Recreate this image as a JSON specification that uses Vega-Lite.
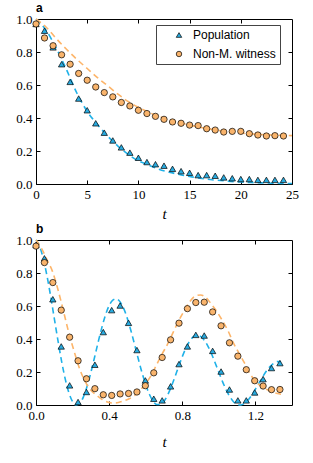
{
  "$schema": "https://vega.github.io/schema/vega-lite/v6.json",
  "padding": {"left": 15, "top": 2, "right": 5, "bottom": 5},
  "background": "white",
  "config": {
    "view": {"stroke": null},
    "axis": {"domainColor": "black", "domainWidth": 1, "tickColor": "black", "tickWidth": 1, "tickSize": -4, "labelFont": "Liberation Serif", "labelFontSize": 13, "labelColor": "black", "labelPadding": 8, "labelFlush": false, "grid": false, "titleFont": "Liberation Serif", "titleFontStyle": "italic", "titleFontWeight": "normal", "titleFontSize": 15, "titleColor": "black"},
    "title": {"font": "Liberation Sans", "fontSize": 12, "fontWeight": "bold", "anchor": "start", "offset": -2, "frame": "group", "color": "black"}
  },
  "datasets": {
    "aPts": [
      {"t": 0, "v": 0.97, "series": "Population"},
      {"t": 0.833, "v": 0.929, "series": "Population"},
      {"t": 1.667, "v": 0.828, "series": "Population"},
      {"t": 2.5, "v": 0.726, "series": "Population"},
      {"t": 3.333, "v": 0.619, "series": "Population"},
      {"t": 4.167, "v": 0.518, "series": "Population"},
      {"t": 5.0, "v": 0.447, "series": "Population"},
      {"t": 5.833, "v": 0.368, "series": "Population"},
      {"t": 6.667, "v": 0.311, "series": "Population"},
      {"t": 7.5, "v": 0.264, "series": "Population"},
      {"t": 8.333, "v": 0.222, "series": "Population"},
      {"t": 9.167, "v": 0.19, "series": "Population"},
      {"t": 10.0, "v": 0.159, "series": "Population"},
      {"t": 10.833, "v": 0.133, "series": "Population"},
      {"t": 11.667, "v": 0.12, "series": "Population"},
      {"t": 12.5, "v": 0.111, "series": "Population"},
      {"t": 13.333, "v": 0.092, "series": "Population"},
      {"t": 14.167, "v": 0.078, "series": "Population"},
      {"t": 15.0, "v": 0.068, "series": "Population"},
      {"t": 15.833, "v": 0.054, "series": "Population"},
      {"t": 16.667, "v": 0.054, "series": "Population"},
      {"t": 17.5, "v": 0.05, "series": "Population"},
      {"t": 18.333, "v": 0.04, "series": "Population"},
      {"t": 19.167, "v": 0.035, "series": "Population"},
      {"t": 20.0, "v": 0.03, "series": "Population"},
      {"t": 20.833, "v": 0.03, "series": "Population"},
      {"t": 21.667, "v": 0.025, "series": "Population"},
      {"t": 22.5, "v": 0.025, "series": "Population"},
      {"t": 23.333, "v": 0.025, "series": "Population"},
      {"t": 24.167, "v": 0.025, "series": "Population"},
      {"t": 0, "v": 0.97, "series": "Non-M. witness"},
      {"t": 0.833, "v": 0.885, "series": "Non-M. witness"},
      {"t": 1.667, "v": 0.838, "series": "Non-M. witness"},
      {"t": 2.5, "v": 0.783, "series": "Non-M. witness"},
      {"t": 3.333, "v": 0.726, "series": "Non-M. witness"},
      {"t": 4.167, "v": 0.67, "series": "Non-M. witness"},
      {"t": 5.0, "v": 0.629, "series": "Non-M. witness"},
      {"t": 5.833, "v": 0.588, "series": "Non-M. witness"},
      {"t": 6.667, "v": 0.554, "series": "Non-M. witness"},
      {"t": 7.5, "v": 0.528, "series": "Non-M. witness"},
      {"t": 8.333, "v": 0.494, "series": "Non-M. witness"},
      {"t": 9.167, "v": 0.473, "series": "Non-M. witness"},
      {"t": 10.0, "v": 0.447, "series": "Non-M. witness"},
      {"t": 10.833, "v": 0.427, "series": "Non-M. witness"},
      {"t": 11.667, "v": 0.41, "series": "Non-M. witness"},
      {"t": 12.5, "v": 0.392, "series": "Non-M. witness"},
      {"t": 13.333, "v": 0.376, "series": "Non-M. witness"},
      {"t": 14.167, "v": 0.368, "series": "Non-M. witness"},
      {"t": 15.0, "v": 0.357, "series": "Non-M. witness"},
      {"t": 15.833, "v": 0.354, "series": "Non-M. witness"},
      {"t": 16.667, "v": 0.335, "series": "Non-M. witness"},
      {"t": 17.5, "v": 0.327, "series": "Non-M. witness"},
      {"t": 18.333, "v": 0.315, "series": "Non-M. witness"},
      {"t": 19.167, "v": 0.319, "series": "Non-M. witness"},
      {"t": 20.0, "v": 0.319, "series": "Non-M. witness"},
      {"t": 20.833, "v": 0.305, "series": "Non-M. witness"},
      {"t": 21.667, "v": 0.297, "series": "Non-M. witness"},
      {"t": 22.5, "v": 0.291, "series": "Non-M. witness"},
      {"t": 23.333, "v": 0.293, "series": "Non-M. witness"},
      {"t": 24.167, "v": 0.291, "series": "Non-M. witness"}
    ],
    "aLines": [
      {"t": 0, "v": 1.0, "series": "Population theory"},
      {"t": 1, "v": 0.93, "series": "Population theory"},
      {"t": 2, "v": 0.82, "series": "Population theory"},
      {"t": 3, "v": 0.69, "series": "Population theory"},
      {"t": 4, "v": 0.55, "series": "Population theory"},
      {"t": 5, "v": 0.44, "series": "Population theory"},
      {"t": 6, "v": 0.36, "series": "Population theory"},
      {"t": 7, "v": 0.29, "series": "Population theory"},
      {"t": 8, "v": 0.23, "series": "Population theory"},
      {"t": 9, "v": 0.18, "series": "Population theory"},
      {"t": 10, "v": 0.14, "series": "Population theory"},
      {"t": 11, "v": 0.115, "series": "Population theory"},
      {"t": 12, "v": 0.09, "series": "Population theory"},
      {"t": 13, "v": 0.072, "series": "Population theory"},
      {"t": 14, "v": 0.058, "series": "Population theory"},
      {"t": 15, "v": 0.045, "series": "Population theory"},
      {"t": 16, "v": 0.035, "series": "Population theory"},
      {"t": 17, "v": 0.027, "series": "Population theory"},
      {"t": 18, "v": 0.021, "series": "Population theory"},
      {"t": 19, "v": 0.016, "series": "Population theory"},
      {"t": 20, "v": 0.012, "series": "Population theory"},
      {"t": 21, "v": 0.009, "series": "Population theory"},
      {"t": 22, "v": 0.007, "series": "Population theory"},
      {"t": 23, "v": 0.005, "series": "Population theory"},
      {"t": 24, "v": 0.004, "series": "Population theory"},
      {"t": 25, "v": 0.003, "series": "Population theory"},
      {"t": 0, "v": 1.0, "series": "Witness theory"},
      {"t": 1, "v": 0.95, "series": "Witness theory"},
      {"t": 2, "v": 0.88, "series": "Witness theory"},
      {"t": 3, "v": 0.815, "series": "Witness theory"},
      {"t": 4, "v": 0.755, "series": "Witness theory"},
      {"t": 5, "v": 0.70, "series": "Witness theory"},
      {"t": 6, "v": 0.645, "series": "Witness theory"},
      {"t": 7, "v": 0.595, "series": "Witness theory"},
      {"t": 8, "v": 0.545, "series": "Witness theory"},
      {"t": 9, "v": 0.50, "series": "Witness theory"},
      {"t": 10, "v": 0.465, "series": "Witness theory"},
      {"t": 11, "v": 0.435, "series": "Witness theory"},
      {"t": 12, "v": 0.41, "series": "Witness theory"},
      {"t": 13, "v": 0.39, "series": "Witness theory"},
      {"t": 14, "v": 0.372, "series": "Witness theory"},
      {"t": 15, "v": 0.357, "series": "Witness theory"},
      {"t": 16, "v": 0.344, "series": "Witness theory"},
      {"t": 17, "v": 0.333, "series": "Witness theory"},
      {"t": 18, "v": 0.323, "series": "Witness theory"},
      {"t": 19, "v": 0.315, "series": "Witness theory"},
      {"t": 20, "v": 0.309, "series": "Witness theory"},
      {"t": 21, "v": 0.304, "series": "Witness theory"},
      {"t": 22, "v": 0.30, "series": "Witness theory"},
      {"t": 23, "v": 0.297, "series": "Witness theory"},
      {"t": 24, "v": 0.295, "series": "Witness theory"},
      {"t": 25, "v": 0.293, "series": "Witness theory"}
    ],
    "bPts": [
      {"t": 0, "v": 0.97, "series": "Population"},
      {"t": 0.046, "v": 0.889, "series": "Population"},
      {"t": 0.092, "v": 0.641, "series": "Population"},
      {"t": 0.138, "v": 0.355, "series": "Population"},
      {"t": 0.184, "v": 0.119, "series": "Population"},
      {"t": 0.23, "v": 0.018, "series": "Population"},
      {"t": 0.276, "v": 0.079, "series": "Population"},
      {"t": 0.322, "v": 0.244, "series": "Population"},
      {"t": 0.368, "v": 0.442, "series": "Population"},
      {"t": 0.414, "v": 0.575, "series": "Population"},
      {"t": 0.46, "v": 0.603, "series": "Population"},
      {"t": 0.506, "v": 0.498, "series": "Population"},
      {"t": 0.552, "v": 0.333, "series": "Population"},
      {"t": 0.598, "v": 0.149, "series": "Population"},
      {"t": 0.644, "v": 0.038, "series": "Population"},
      {"t": 0.69, "v": 0.028, "series": "Population"},
      {"t": 0.736, "v": 0.113, "series": "Population"},
      {"t": 0.782, "v": 0.248, "series": "Population"},
      {"t": 0.828, "v": 0.355, "series": "Population"},
      {"t": 0.874, "v": 0.425, "series": "Population"},
      {"t": 0.92, "v": 0.421, "series": "Population"},
      {"t": 0.966, "v": 0.328, "series": "Population"},
      {"t": 1.012, "v": 0.203, "series": "Population"},
      {"t": 1.058, "v": 0.094, "series": "Population"},
      {"t": 1.104, "v": 0.028, "series": "Population"},
      {"t": 1.15, "v": 0.028, "series": "Population"},
      {"t": 1.196, "v": 0.076, "series": "Population"},
      {"t": 1.242, "v": 0.157, "series": "Population"},
      {"t": 1.288, "v": 0.224, "series": "Population"},
      {"t": 1.334, "v": 0.254, "series": "Population"},
      {"t": 0, "v": 0.963, "series": "Non-M. witness"},
      {"t": 0.046, "v": 0.863, "series": "Non-M. witness"},
      {"t": 0.092, "v": 0.742, "series": "Non-M. witness"},
      {"t": 0.138, "v": 0.575, "series": "Non-M. witness"},
      {"t": 0.184, "v": 0.411, "series": "Non-M. witness"},
      {"t": 0.23, "v": 0.268, "series": "Non-M. witness"},
      {"t": 0.276, "v": 0.159, "series": "Non-M. witness"},
      {"t": 0.322, "v": 0.099, "series": "Non-M. witness"},
      {"t": 0.368, "v": 0.062, "series": "Non-M. witness"},
      {"t": 0.414, "v": 0.058, "series": "Non-M. witness"},
      {"t": 0.46, "v": 0.067, "series": "Non-M. witness"},
      {"t": 0.506, "v": 0.07, "series": "Non-M. witness"},
      {"t": 0.552, "v": 0.079, "series": "Non-M. witness"},
      {"t": 0.598, "v": 0.117, "series": "Non-M. witness"},
      {"t": 0.644, "v": 0.195, "series": "Non-M. witness"},
      {"t": 0.69, "v": 0.288, "series": "Non-M. witness"},
      {"t": 0.736, "v": 0.395, "series": "Non-M. witness"},
      {"t": 0.782, "v": 0.496, "series": "Non-M. witness"},
      {"t": 0.828, "v": 0.584, "series": "Non-M. witness"},
      {"t": 0.874, "v": 0.621, "series": "Non-M. witness"},
      {"t": 0.92, "v": 0.623, "series": "Non-M. witness"},
      {"t": 0.966, "v": 0.564, "series": "Non-M. witness"},
      {"t": 1.012, "v": 0.48, "series": "Non-M. witness"},
      {"t": 1.058, "v": 0.377, "series": "Non-M. witness"},
      {"t": 1.104, "v": 0.296, "series": "Non-M. witness"},
      {"t": 1.15, "v": 0.214, "series": "Non-M. witness"},
      {"t": 1.196, "v": 0.147, "series": "Non-M. witness"},
      {"t": 1.242, "v": 0.115, "series": "Non-M. witness"},
      {"t": 1.288, "v": 0.093, "series": "Non-M. witness"},
      {"t": 1.334, "v": 0.094, "series": "Non-M. witness"}
    ],
    "bLines": [
      {"t": 0, "v": 1.0, "series": "Population theory"},
      {"t": 0.02, "v": 0.961, "series": "Population theory"},
      {"t": 0.04, "v": 0.887, "series": "Population theory"},
      {"t": 0.06, "v": 0.783, "series": "Population theory"},
      {"t": 0.08, "v": 0.66, "series": "Population theory"},
      {"t": 0.10, "v": 0.525, "series": "Population theory"},
      {"t": 0.12, "v": 0.391, "series": "Population theory"},
      {"t": 0.14, "v": 0.265, "series": "Population theory"},
      {"t": 0.16, "v": 0.157, "series": "Population theory"},
      {"t": 0.18, "v": 0.074, "series": "Population theory"},
      {"t": 0.20, "v": 0.021, "series": "Population theory"},
      {"t": 0.22, "v": 0.0, "series": "Population theory"},
      {"t": 0.24, "v": 0.011, "series": "Population theory"},
      {"t": 0.26, "v": 0.051, "series": "Population theory"},
      {"t": 0.28, "v": 0.115, "series": "Population theory"},
      {"t": 0.30, "v": 0.197, "series": "Population theory"},
      {"t": 0.32, "v": 0.288, "series": "Population theory"},
      {"t": 0.34, "v": 0.381, "series": "Population theory"},
      {"t": 0.36, "v": 0.469, "series": "Population theory"},
      {"t": 0.38, "v": 0.545, "series": "Population theory"},
      {"t": 0.40, "v": 0.603, "series": "Population theory"},
      {"t": 0.42, "v": 0.635, "series": "Population theory"},
      {"t": 0.44, "v": 0.643, "series": "Population theory"},
      {"t": 0.46, "v": 0.625, "series": "Population theory"},
      {"t": 0.48, "v": 0.584, "series": "Population theory"},
      {"t": 0.50, "v": 0.523, "series": "Population theory"},
      {"t": 0.52, "v": 0.447, "series": "Population theory"},
      {"t": 0.54, "v": 0.363, "series": "Population theory"},
      {"t": 0.56, "v": 0.277, "series": "Population theory"},
      {"t": 0.58, "v": 0.195, "series": "Population theory"},
      {"t": 0.60, "v": 0.123, "series": "Population theory"},
      {"t": 0.62, "v": 0.065, "series": "Population theory"},
      {"t": 0.64, "v": 0.024, "series": "Population theory"},
      {"t": 0.66, "v": 0.003, "series": "Population theory"},
      {"t": 0.68, "v": 0.003, "series": "Population theory"},
      {"t": 0.70, "v": 0.023, "series": "Population theory"},
      {"t": 0.72, "v": 0.061, "series": "Population theory"},
      {"t": 0.74, "v": 0.112, "series": "Population theory"},
      {"t": 0.76, "v": 0.171, "series": "Population theory"},
      {"t": 0.78, "v": 0.233, "series": "Population theory"},
      {"t": 0.80, "v": 0.293, "series": "Population theory"},
      {"t": 0.82, "v": 0.345, "series": "Population theory"},
      {"t": 0.84, "v": 0.386, "series": "Population theory"},
      {"t": 0.86, "v": 0.413, "series": "Population theory"},
      {"t": 0.88, "v": 0.423, "series": "Population theory"},
      {"t": 0.90, "v": 0.416, "series": "Population theory"},
      {"t": 0.92, "v": 0.393, "series": "Population theory"},
      {"t": 0.94, "v": 0.357, "series": "Population theory"},
      {"t": 0.96, "v": 0.31, "series": "Population theory"},
      {"t": 0.98, "v": 0.255, "series": "Population theory"},
      {"t": 1.00, "v": 0.198, "series": "Population theory"},
      {"t": 1.02, "v": 0.142, "series": "Population theory"},
      {"t": 1.04, "v": 0.092, "series": "Population theory"},
      {"t": 1.06, "v": 0.051, "series": "Population theory"},
      {"t": 1.08, "v": 0.02, "series": "Population theory"},
      {"t": 1.10, "v": 0.004, "series": "Population theory"},
      {"t": 1.12, "v": 0.0, "series": "Population theory"},
      {"t": 1.14, "v": 0.01, "series": "Population theory"},
      {"t": 1.16, "v": 0.03, "series": "Population theory"},
      {"t": 1.18, "v": 0.06, "series": "Population theory"},
      {"t": 1.20, "v": 0.096, "series": "Population theory"},
      {"t": 1.22, "v": 0.134, "series": "Population theory"},
      {"t": 1.24, "v": 0.171, "series": "Population theory"},
      {"t": 1.26, "v": 0.206, "series": "Population theory"},
      {"t": 1.28, "v": 0.233, "series": "Population theory"},
      {"t": 1.30, "v": 0.253, "series": "Population theory"},
      {"t": 1.32, "v": 0.263, "series": "Population theory"},
      {"t": 1.34, "v": 0.262, "series": "Population theory"},
      {"t": 0, "v": 1.0, "series": "Witness theory"},
      {"t": 0.03, "v": 0.95, "series": "Witness theory"},
      {"t": 0.06, "v": 0.88, "series": "Witness theory"},
      {"t": 0.09, "v": 0.81, "series": "Witness theory"},
      {"t": 0.12, "v": 0.70, "series": "Witness theory"},
      {"t": 0.15, "v": 0.57, "series": "Witness theory"},
      {"t": 0.18, "v": 0.435, "series": "Witness theory"},
      {"t": 0.21, "v": 0.32, "series": "Witness theory"},
      {"t": 0.24, "v": 0.215, "series": "Witness theory"},
      {"t": 0.27, "v": 0.14, "series": "Witness theory"},
      {"t": 0.30, "v": 0.09, "series": "Witness theory"},
      {"t": 0.33, "v": 0.06, "series": "Witness theory"},
      {"t": 0.36, "v": 0.035, "series": "Witness theory"},
      {"t": 0.39, "v": 0.018, "series": "Witness theory"},
      {"t": 0.42, "v": 0.012, "series": "Witness theory"},
      {"t": 0.45, "v": 0.015, "series": "Witness theory"},
      {"t": 0.48, "v": 0.025, "series": "Witness theory"},
      {"t": 0.51, "v": 0.038, "series": "Witness theory"},
      {"t": 0.54, "v": 0.058, "series": "Witness theory"},
      {"t": 0.57, "v": 0.09, "series": "Witness theory"},
      {"t": 0.60, "v": 0.13, "series": "Witness theory"},
      {"t": 0.63, "v": 0.18, "series": "Witness theory"},
      {"t": 0.66, "v": 0.245, "series": "Witness theory"},
      {"t": 0.69, "v": 0.31, "series": "Witness theory"},
      {"t": 0.72, "v": 0.37, "series": "Witness theory"},
      {"t": 0.75, "v": 0.44, "series": "Witness theory"},
      {"t": 0.78, "v": 0.51, "series": "Witness theory"},
      {"t": 0.81, "v": 0.57, "series": "Witness theory"},
      {"t": 0.84, "v": 0.625, "series": "Witness theory"},
      {"t": 0.87, "v": 0.66, "series": "Witness theory"},
      {"t": 0.90, "v": 0.667, "series": "Witness theory"},
      {"t": 0.93, "v": 0.65, "series": "Witness theory"},
      {"t": 0.96, "v": 0.61, "series": "Witness theory"},
      {"t": 0.99, "v": 0.565, "series": "Witness theory"},
      {"t": 1.02, "v": 0.51, "series": "Witness theory"},
      {"t": 1.05, "v": 0.45, "series": "Witness theory"},
      {"t": 1.08, "v": 0.375, "series": "Witness theory"},
      {"t": 1.11, "v": 0.315, "series": "Witness theory"},
      {"t": 1.14, "v": 0.255, "series": "Witness theory"},
      {"t": 1.17, "v": 0.19, "series": "Witness theory"},
      {"t": 1.20, "v": 0.145, "series": "Witness theory"},
      {"t": 1.23, "v": 0.115, "series": "Witness theory"},
      {"t": 1.26, "v": 0.095, "series": "Witness theory"},
      {"t": 1.29, "v": 0.08, "series": "Witness theory"},
      {"t": 1.32, "v": 0.07, "series": "Witness theory"},
      {"t": 1.34, "v": 0.065, "series": "Witness theory"}
    ]
  },
  "spacing": 56,
  "bounds": "flush",
  "resolve": {"scale": {"x": "independent", "y": "independent", "color": "independent", "shape": "independent", "stroke": "independent"}},
  "vconcat": [
    {
      "width": 256,
      "height": 165,
      "title": {"text": "a"},
      "resolve": {"axis": {"x": "independent", "y": "independent"}},
      "layer": [
        {
          "data": {"name": "aLines"},
          "mark": {"type": "line", "strokeDash": [6, 4], "strokeWidth": 1.6, "interpolate": "monotone"},
          "encoding": {
            "x": {"field": "t", "type": "quantitative", "scale": {"domain": [0, 25], "nice": false}, "axis": {"orient": "bottom", "values": [0, 5, 10, 15, 20, 25], "format": "d", "title": "t", "titlePadding": 5}},
            "y": {"field": "v", "type": "quantitative", "scale": {"domain": [0, 1], "nice": false}, "axis": {"orient": "left", "values": [0, 0.2, 0.4, 0.6, 0.8, 1.0], "format": ".1f", "title": null}},
            "stroke": {"field": "series", "type": "nominal", "scale": {"domain": ["Population theory", "Witness theory"], "range": ["#1fb1e8", "#fdb56a"]}, "legend": null}
          }
        },
        {
          "data": {"name": "aPts"},
          "mark": {"type": "point", "filled": true, "stroke": "black", "strokeWidth": 0.7, "opacity": 1, "size": 40},
          "encoding": {
            "x": {"field": "t", "type": "quantitative", "axis": {"orient": "top", "values": [5, 10, 15, 20], "labels": false, "title": null}},
            "y": {"field": "v", "type": "quantitative", "axis": {"orient": "right", "values": [0.2, 0.4, 0.6, 0.8], "labels": false, "title": null}},
            "color": {"field": "series", "type": "nominal", "scale": {"domain": ["Population", "Non-M. witness"], "range": ["#29abe0", "#f9b46c"]},
              "legend": {"title": null, "orient": "none", "legendX": 120, "legendY": 6, "padding": 4, "strokeColor": "#444444", "fillColor": "white", "symbolOffset": 13, "labelOffset": 8, "labelFont": "Liberation Sans", "labelFontSize": 12, "labelColor": "black", "rowPadding": 7, "symbolSize": 30, "symbolStrokeColor": "black", "symbolStrokeWidth": 0.7, "symbolOpacity": 1}},
            "shape": {"field": "series", "type": "nominal", "scale": {"domain": ["Population", "Non-M. witness"], "range": ["triangle-up", "circle"]}}
          }
        }
      ]
    },
    {
      "width": 256,
      "height": 165,
      "title": {"text": "b"},
      "resolve": {"axis": {"x": "independent", "y": "independent"}},
      "layer": [
        {
          "data": {"name": "bLines"},
          "mark": {"type": "line", "strokeDash": [6, 4], "strokeWidth": 1.6, "interpolate": "monotone"},
          "encoding": {
            "x": {"field": "t", "type": "quantitative", "scale": {"domain": [0, 1.4], "nice": false}, "axis": {"orient": "bottom", "values": [0, 0.4, 0.8, 1.2], "format": ".1f", "title": "t", "titlePadding": 12}},
            "y": {"field": "v", "type": "quantitative", "scale": {"domain": [0, 1], "nice": false}, "axis": {"orient": "left", "values": [0, 0.2, 0.4, 0.6, 0.8, 1.0], "format": ".1f", "title": null}},
            "stroke": {"field": "series", "type": "nominal", "scale": {"domain": ["Population theory", "Witness theory"], "range": ["#1fb1e8", "#fdb56a"]}, "legend": null}
          }
        },
        {
          "data": {"name": "bPts"},
          "mark": {"type": "point", "filled": true, "stroke": "black", "strokeWidth": 0.7, "opacity": 1, "size": 40},
          "encoding": {
            "x": {"field": "t", "type": "quantitative", "axis": {"orient": "top", "values": [0.4, 0.8, 1.2], "labels": false, "title": null}},
            "y": {"field": "v", "type": "quantitative", "axis": {"orient": "right", "values": [0.2, 0.4, 0.6, 0.8], "labels": false, "title": null}},
            "color": {"field": "series", "type": "nominal", "scale": {"domain": ["Population", "Non-M. witness"], "range": ["#29abe0", "#f9b46c"]}, "legend": null},
            "shape": {"field": "series", "type": "nominal", "scale": {"domain": ["Population", "Non-M. witness"], "range": ["triangle-up", "circle"]}, "legend": null}
          }
        }
      ]
    }
  ]
}
